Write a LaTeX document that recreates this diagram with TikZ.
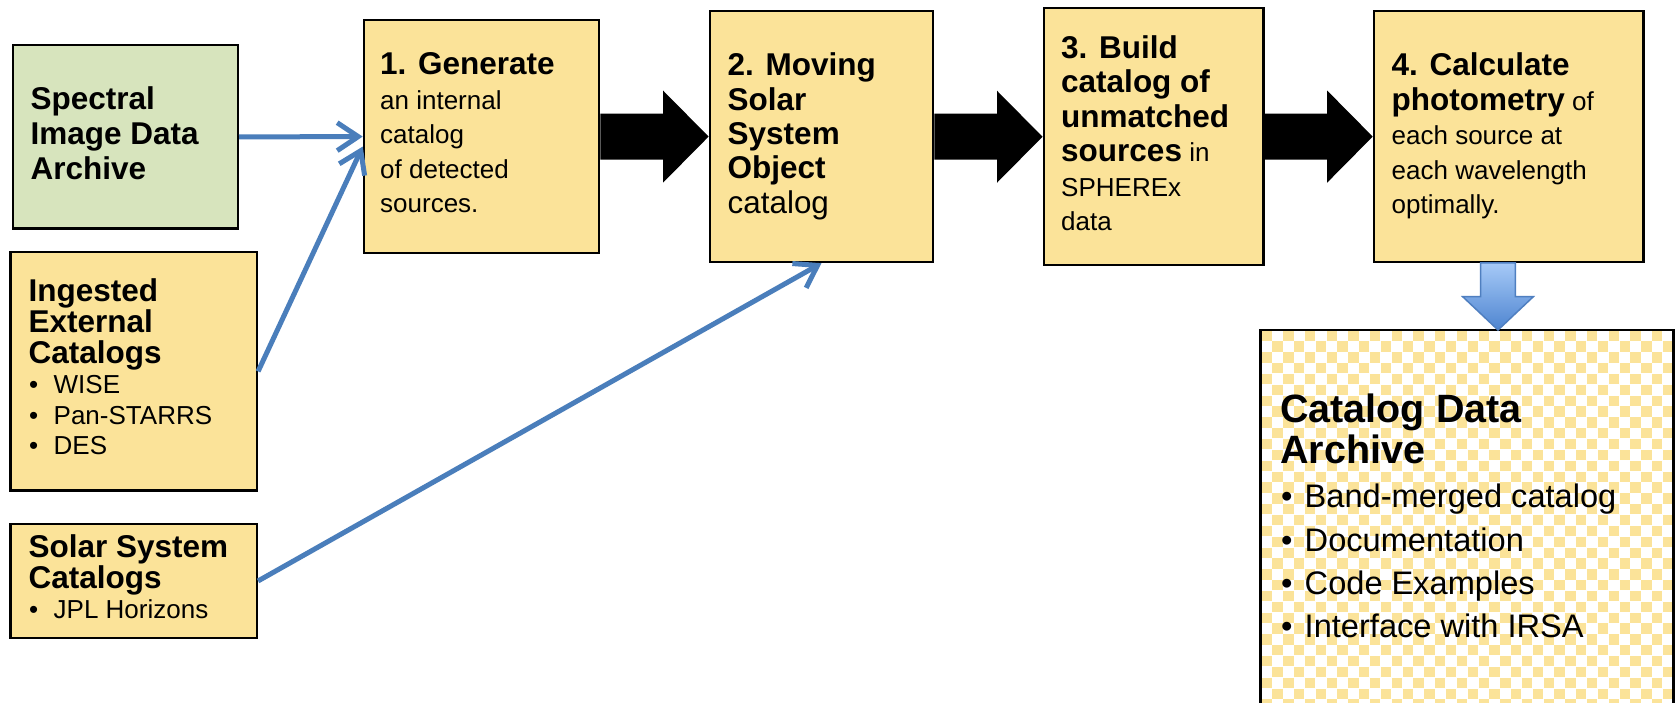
\documentclass[tikz,border=0pt]{standalone}
\usepackage{fontspec}
\setmainfont{Liberation Sans}
\usetikzlibrary{arrows.meta,calc}
\definecolor{boxyellow}{HTML}{FBE399}
\definecolor{boxgreen}{HTML}{D7E4BD}
\definecolor{connblue}{HTML}{4A7EBB}
\definecolor{arrlight}{HTML}{A6C9F7}
\definecolor{arrdark}{HTML}{4E85D0}
\definecolor{arredge}{HTML}{4F7FC0}
\newcommand\xbold{\fontsize{31.5}{34}\selectfont\bfseries}
\newcommand\xreg{\fontsize{26}{34}\selectfont\mdseries}
\newcommand\xbig{\fontsize{39.5}{42}\selectfont\bfseries}
\newcommand\xmid{\fontsize{32.6}{40}\selectfont\mdseries}
\newcommand\blockarr[2]{\fill[black] let \p1=(#1.east), \p2=(#2.west) in
  (\x1,\y2+23pt) -- (\x2-45.5pt,\y2+23pt) -- (\x2-45.5pt,\y2+46pt) -- (\x2,\y2)
  -- (\x2-45.5pt,\y2-46pt) -- (\x2-45.5pt,\y2-23pt) -- (\x1,\y2-23pt) -- cycle;}
\begin{document}
\begin{tikzpicture}[x=1pt,y=-1pt,
  box/.style={draw=black,line width=2.5pt,fill=boxyellow,anchor=north west,inner sep=0pt},
  bt/.style={anchor=base west,inner sep=0pt,font=\xbold},
  rt/.style={anchor=base west,inner sep=0pt,font=\xreg},
  bigt/.style={anchor=base west,inner sep=0pt,font=\xbig},
  midt/.style={anchor=base west,inner sep=0pt,font=\xmid},
  conn/.style={draw=connblue,line width=5pt,-{Straight Barb[length=21pt,width=28pt]}}
]
\useasboundingbox (0,0) rectangle (1676,703);
\begin{scope}
\clip (0,0) rectangle (1676,703);
\fill[white] (0,0) rectangle (1676,703);

% boxes
\node[box,fill=boxgreen,minimum width=225pt,minimum height=183.3pt] (spec) at (11.5,44) {};
\node[box,minimum width=246.3pt,minimum height=238.3pt] (ing) at (9.3,251) {};
\node[box,minimum width=246.3pt,minimum height=114pt] (sol) at (9.3,522.7) {};
\node[box,minimum width=235.1pt,minimum height=232.7pt] (b1) at (362.7,19) {};
\node[box,minimum width=223.2pt,minimum height=250.7pt] (b2) at (708.6,10) {};
\node[box,minimum width=219.5pt,minimum height=257pt] (b3) at (1042.5,7) {};
\node[box,minimum width=269.6pt,minimum height=250.7pt] (b4) at (1372.7,10) {};
\node[anchor=north west,inner sep=0pt,fill=white,minimum width=412.3pt,minimum height=390pt] (cat) at (1260.7,330) {};

% checker pattern
\begin{scope}
\clip (cat.north west) rectangle (cat.south east);
\foreach \j in {0,...,36}{
  \pgfmathtruncatemacro\chkoff{mod(\j,2)}
  \foreach \i in {0,2,...,38}{
    \fill[boxyellow] ({1261.5+(\i+\chkoff)*10.85},{330.5+\j*10.85}) rectangle ++(10.3,10.3);
  }
}
\end{scope}
\draw[line width=2.5pt] (cat.north west) rectangle (cat.south east);

% block arrows
\blockarr{b1}{b2}
\blockarr{b2}{b3}
\blockarr{b3}{b4}
\coordinate (dtop) at (1498,263);
\shadedraw[top color=arrlight,bottom color=arrdark,draw=arredge,line width=1.5pt]
  ($(dtop)+(-17.3,0)$) -- ($(dtop)+(17.3,0)$) -- ($(dtop)+(17.3,33.7)$) -- ($(dtop)+(35.3,33.7)$)
  -- (dtop |- cat.north) -- ($(dtop)+(-35.3,33.7)$) -- ($(dtop)+(-17.3,33.7)$) -- cycle;

% connectors
\draw[conn] (spec.east) -- (b1.west);
\draw[conn] (ing.east) -- ($(b1.west)+(0,10)$);
\draw[conn] (sol.east) -- (b2.south);

% texts: spectral
\node[bt] (s1) at (30.5,110) {Spectral};
\node[bt] (s2) at (30.5,145) {Image Data};
\node[bt] (s3) at (30.5,180) {Archive};
% ingested
\node[bt] (i1) at (28.5,302) {Ingested};
\node[bt] (i2) at (28.5,332.5) {External};
\node[bt] (i3) at (28.5,363) {Catalogs};
\node[rt] (i4b) at (29,393.5) {•};
\node[rt] (i4) at (53.5,393.5) {WISE};
\node[rt] (i5b) at (29,424) {•};
\node[rt] (i5) at (53.5,424) {Pan-STARRS};
\node[rt] (i6b) at (29,454.5) {•};
\node[rt] (i6) at (53.5,454.5) {DES};
% solar
\node[bt] (o1) at (28.5,557.5) {Solar System};
\node[bt] (o2) at (28.5,588) {Catalogs};
\node[rt] (o3b) at (29,618.5) {•};
\node[rt] (o3) at (53.5,618.5) {JPL Horizons};
% box 1
\node[bt] (a1) at (380,75) {1. Generate};
\node[rt] (a2) at (380,109.5) {an internal};
\node[rt] (a3) at (380,144) {catalog};
\node[rt] (a4) at (380,178.5) {of detected};
\node[rt] (a5) at (380,213) {sources.};
% box 2
\node[bt] (m1) at (727.5,76) {2. Moving};
\node[bt] (m2) at (727.5,110.3) {Solar};
\node[bt] (m3) at (727.5,144.6) {System};
\node[bt] (m4) at (727.5,178.9) {Object};
\node[anchor=base west,inner sep=0pt,font=\fontsize{31.4}{34}\selectfont] (m5) at (727.5,213.2) {catalog};
% box 3
\node[bt] (u1) at (1061,58.3) {3. Build};
\node[bt] (u2) at (1061,92.8) {catalog of};
\node[bt] (u3) at (1061,127.3) {unmatched};
\node[bt] (u4) at (1061,161.8) {sources\xreg{} in};
\node[rt] (u5) at (1061,196.3) {SPHEREx};
\node[rt] (u6) at (1061,230.8) {data};
% box 4
\node[bt] (p1) at (1391.5,76) {4. Calculate};
\node[bt] (p2) at (1391.5,110.5) {photometry\xreg{} of};
\node[rt] (p3) at (1391.5,145) {each source at};
\node[rt] (p4) at (1391.5,179.5) {each wavelength};
\node[rt] (p5) at (1391.5,214) {optimally.};
% catalog archive
\node[bigt] (c1) at (1280,422.7) {Catalog Data};
\node[bigt] (c2) at (1280,463.3) {Archive};
\node[midt] (c3b) at (1281,507.7) {•};
\node[midt] (c3) at (1304.5,507.7) {Band-merged catalog};
\node[midt] (c4b) at (1281,551) {•};
\node[midt] (c4) at (1304.5,551) {Documentation};
\node[midt] (c5b) at (1281,594.3) {•};
\node[midt] (c5) at (1304.5,594.3) {Code Examples};
\node[midt] (c6b) at (1281,637.6) {•};
\node[midt] (c6) at (1304.5,637.6) {Interface with IRSA};
\end{scope}
\end{tikzpicture}
\end{document}
